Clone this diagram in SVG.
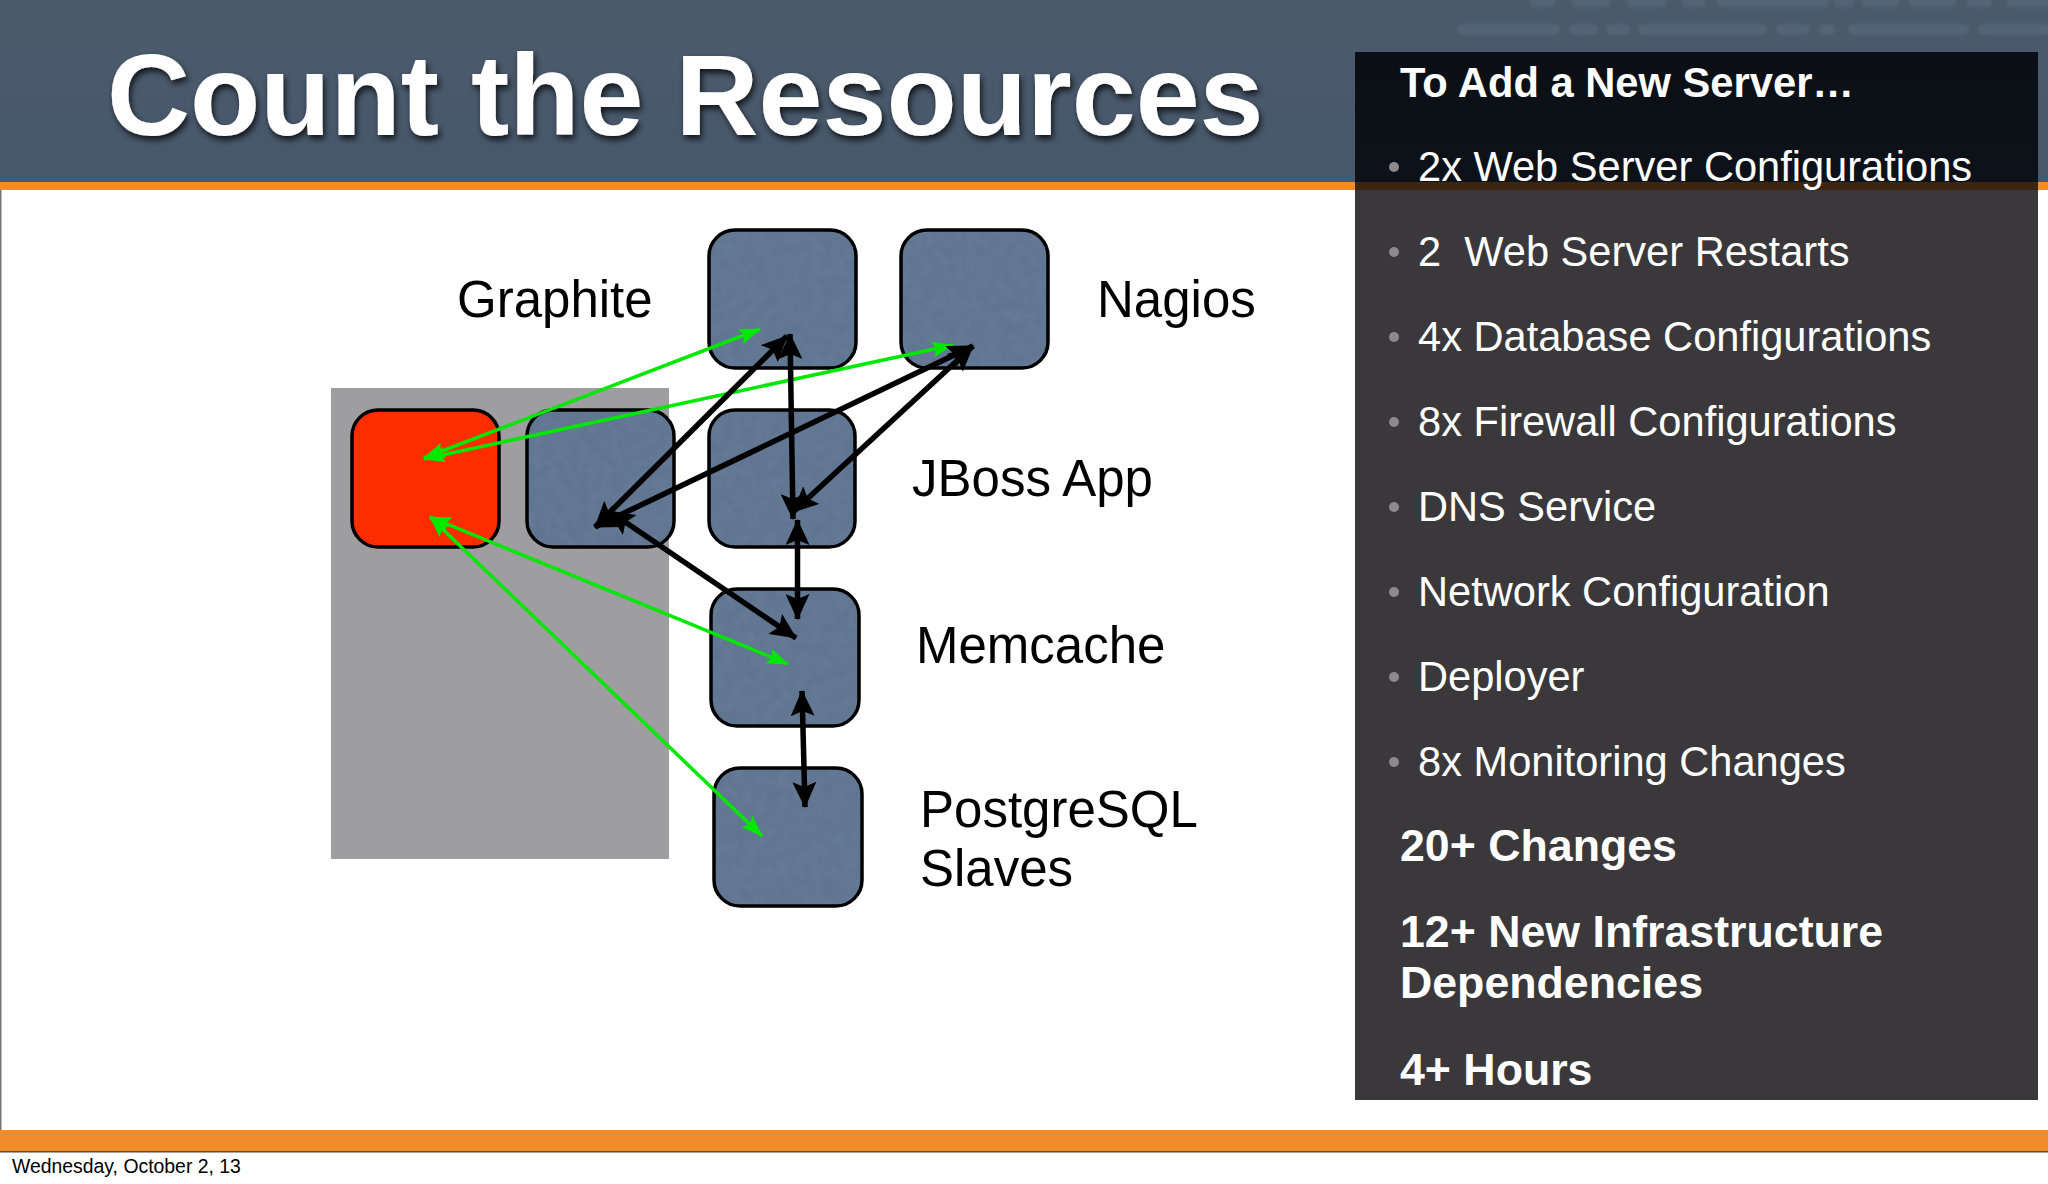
<svg xmlns="http://www.w3.org/2000/svg" width="2048" height="1184" viewBox="0 0 2048 1184">
<style>
text{font-family:"Liberation Sans",Arial,sans-serif;white-space:pre}
.node{stroke:#000;stroke-width:3.5}
.edge{fill:none;stroke:#000;stroke-width:3.5}
.blue{fill:#5e7490;filter:url(#tex)}
.lab{font-size:51px;fill:#000}
.item{font-size:41.600px;fill:#fff}
.head{font-size:44.700px;font-weight:bold;fill:#fff}
.bul{fill:#8b8b8d}
.blk{stroke:#000;stroke-width:5.500;fill:none;marker-start:url(#bk);marker-end:url(#bk)}
.grn{stroke:#00e800;stroke-width:3.500;fill:none;marker-start:url(#gr);marker-end:url(#gr)}
.gh{fill:#57677a}
</style>
<defs>
<linearGradient id="hdr" x1="0" y1="0" x2="0" y2="1"><stop offset="0" stop-color="#4c5a6b"/><stop offset="1" stop-color="#47586c"/></linearGradient>
<linearGradient id="pan" x1="0" y1="0" x2="0" y2="1"><stop offset="0" stop-color="#0b0f15"/><stop offset="1" stop-color="#0d121a"/></linearGradient>
<marker id="bk" viewBox="0 0 26 24" refX="25" refY="12" markerUnits="userSpaceOnUse" markerWidth="26" markerHeight="24" orient="auto-start-reverse"><path d="M0 0L26 12L0 24L5 12Z" fill="#000"/></marker>
<marker id="gr" viewBox="0 0 22 16" refX="21" refY="8" markerUnits="userSpaceOnUse" markerWidth="22" markerHeight="16" orient="auto-start-reverse"><path d="M0 0L22 8L0 16L4 8Z" fill="#00e800"/></marker>
<filter id="sh" x="-5%" y="-20%" width="110%" height="140%"><feDropShadow dx="2" dy="4" stdDeviation="3" flood-color="#000" flood-opacity=".75"/></filter>
<filter id="bl"><feGaussianBlur stdDeviation="1.5"/></filter>
<filter id="tex" x="0" y="0" width="100%" height="100%"><feTurbulence type="fractalNoise" baseFrequency=".09" numOctaves="3" seed="4" result="n"/><feColorMatrix in="n" type="matrix" values="0 0 0 0 .2  0 0 0 0 .27  0 0 0 0 .36  .3 .3 0 0 -.2" result="d"/><feComposite in="d" in2="SourceGraphic" operator="atop"/></filter>
</defs>
<rect width="2048" height="1184" fill="#fff"/>
<rect id="header" width="2048" height="182" fill="url(#hdr)"/>
<g filter="url(#bl)" opacity=".75">
<rect class="gh" x="1530" y="-4" width="25" height="11" rx="4"/><rect class="gh" x="1572" y="-4" width="38" height="11" rx="4"/><rect class="gh" x="1627" y="-4" width="39" height="11" rx="4"/><rect class="gh" x="1682" y="-4" width="23" height="11" rx="4"/><rect class="gh" x="1717" y="-4" width="112" height="11" rx="4"/><rect class="gh" x="1834" y="-4" width="20" height="11" rx="4"/><rect class="gh" x="1862" y="-4" width="37" height="11" rx="4"/><rect class="gh" x="1909" y="-4" width="47" height="11" rx="4"/><rect class="gh" x="1967" y="-4" width="25" height="11" rx="4"/><rect class="gh" x="2007" y="-4" width="45" height="11" rx="4"/>
<rect class="gh" x="1457" y="24" width="103" height="11" rx="5"/><rect class="gh" x="1569" y="24" width="29" height="11" rx="5"/><rect class="gh" x="1606" y="24" width="24" height="11" rx="5"/><rect class="gh" x="1638" y="24" width="129" height="11" rx="5"/><rect class="gh" x="1776" y="24" width="34" height="11" rx="5"/><rect class="gh" x="1819" y="24" width="16" height="11" rx="5"/><rect class="gh" x="1848" y="24" width="121" height="11" rx="5"/><rect class="gh" x="1978" y="24" width="75" height="11" rx="5"/>
</g>
<rect id="header-rule" y="182" width="2048" height="8" fill="#f28c28"/>
<rect x="0" y="190" width="1.500" height="962" fill="#777"/>
<text x="107" y="135" font-size="115" font-weight="bold" fill="#fff" filter="url(#sh)">Count the Resources</text>
<rect id="footer-rule" y="1130" width="2048" height="22" fill="#f28c28"/>
<rect y="1151" width="2048" height="1.500" fill="#5a4a3a"/>
<text x="12" y="1173" font-size="19.400" fill="#000">Wednesday, October 2, 13</text>

<rect id="cluster" x="331" y="388" width="338" height="471" fill="#9e9d9f"/>
<g id="node-red"><rect class="node" x="352" y="410" width="147" height="137" rx="26" fill="#ff2d00"/></g>
<g id="node-app2"><rect class="blue" x="527" y="410" width="147" height="137" rx="26"/><rect class="edge" x="527" y="410" width="147" height="137" rx="26"/></g>
<g id="node-graphite"><rect class="blue" x="709" y="230" width="147" height="138" rx="26"/><rect class="edge" x="709" y="230" width="147" height="138" rx="26"/><text class="lab" x="457" y="317">Graphite</text></g>
<g id="node-nagios"><rect class="blue" x="901" y="230" width="147" height="138" rx="26"/><rect class="edge" x="901" y="230" width="147" height="138" rx="26"/><text class="lab" x="1097" y="317">Nagios</text></g>
<g id="node-jboss"><rect class="blue" x="709" y="410" width="146" height="137" rx="26"/><rect class="edge" x="709" y="410" width="146" height="137" rx="26"/><text class="lab" x="912" y="496">JBoss App</text></g>
<g id="node-memcache"><rect class="blue" x="711" y="589" width="148" height="137" rx="26"/><rect class="edge" x="711" y="589" width="148" height="137" rx="26"/><text class="lab" x="916" y="663">Memcache</text></g>
<g id="node-postgres"><rect class="blue" x="714" y="768" width="148" height="138" rx="26"/><rect class="edge" x="714" y="768" width="148" height="138" rx="26"/><text class="lab" x="920" y="827">PostgreSQL</text><text class="lab" x="920" y="886">Slaves</text></g>

<g id="connectors">
<path class="grn" d="M424 458L760 329"/>
<path class="grn" d="M424 459L953 345"/>
<path class="grn" d="M430 517L788 664"/>
<path class="grn" d="M430 517L762 836"/>
<path class="blk" d="M595 527L787 336"/>
<path class="blk" d="M595 527L973 346"/>
<path class="blk" d="M609 511L796 638"/>
<path class="blk" d="M790 334L793 519"/>
<path class="blk" d="M793 512L973 346"/>
<path class="blk" d="M797.500 520L797.500 619"/>
<path class="blk" d="M802 691L805 807"/>
</g>

<g id="panel">
<rect x="1355" y="52" width="683" height="1048" fill="#3a383b"/>
<rect x="1355" y="52" width="683" height="130" fill="url(#pan)"/>
<rect x="1355" y="182" width="683" height="8" fill="#3c2612"/>
<text class="head" x="1400" y="97" style="font-size:41.700px">To Add a New Server…</text>
<circle class="bul" cx="1394" cy="167" r="5"/><text class="item" x="1418" y="181">2x Web Server Configurations</text>
<circle class="bul" cx="1394" cy="252" r="5"/><text class="item" x="1418" y="266">2  Web Server Restarts</text>
<circle class="bul" cx="1394" cy="337" r="5"/><text class="item" x="1418" y="351">4x Database Configurations</text>
<circle class="bul" cx="1394" cy="422" r="5"/><text class="item" x="1418" y="436">8x Firewall Configurations</text>
<circle class="bul" cx="1394" cy="507" r="5"/><text class="item" x="1418" y="521">DNS Service</text>
<circle class="bul" cx="1394" cy="592" r="5"/><text class="item" x="1418" y="606">Network Configuration</text>
<circle class="bul" cx="1394" cy="677" r="5"/><text class="item" x="1418" y="691">Deployer</text>
<circle class="bul" cx="1394" cy="762" r="5"/><text class="item" x="1418" y="776">8x Monitoring Changes</text>
<text class="head" x="1400" y="861">20+ Changes</text>
<text class="head" x="1400" y="947">12+ New Infrastructure</text>
<text class="head" x="1400" y="998">Dependencies</text>
<text class="head" x="1400" y="1085">4+ Hours</text>
</g>
</svg>
